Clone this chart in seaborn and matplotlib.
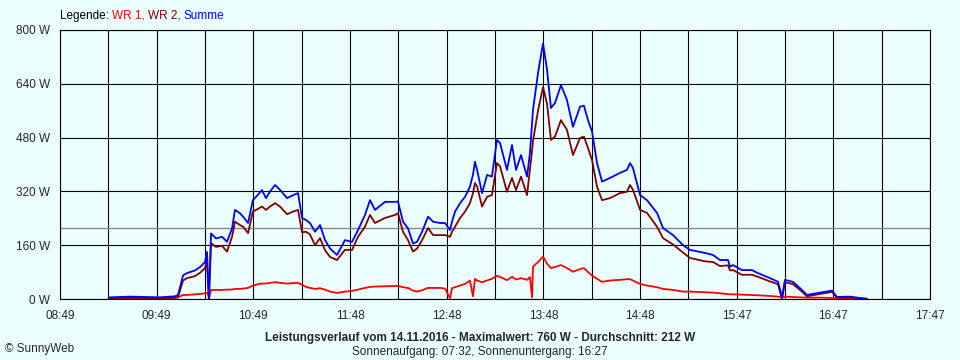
import matplotlib
matplotlib.use("Agg")
import matplotlib.pyplot as plt
import numpy as np
import pandas as pd
import seaborn as sns

# Messzeitpunkte in Minuten seit Mitternacht
minuten = [559.9, 566.1, 572.3, 581.6, 590.8, 600.1, 602.0, 605.1, 607.5, 612.5,
           615.6, 618.7, 619.9, 620.5, 621.1, 622.4, 625.5, 629.2, 632.3, 635.4,
           637.2, 640.3, 642.2, 645.3, 648.3, 651.4, 653.9, 656.4, 658.9, 662.0,
           665.0, 669.4, 673.1, 676.2, 678.7, 681.1, 683.6, 686.7, 689.8, 692.9,
           696.0, 700.3, 705.2, 709.6, 713.3, 717.6, 720.7, 723.8, 730.0, 736.2,
           738.0, 741.1, 744.2, 747.3, 749.8, 752.9, 756.6, 759.7, 764.0, 767.1,
           770.2, 771.4, 773.3, 776.4, 779.5, 782.5, 784.4, 785.6, 786.9, 790.0,
           793.1, 796.1, 799.2, 801.1, 805.4, 808.5, 811.0, 814.1, 817.8, 819.6,
           820.9, 821.5, 824.6, 827.7, 830.2, 832.6, 835.1, 838.8, 842.5, 846.2,
           850.6, 853.0, 855.5, 858.0, 861.1, 864.2, 869.1, 875.3, 879.6, 881.5,
           883.3, 887.7, 892.0, 898.2, 901.9, 908.1, 914.3, 918.6, 927.9, 932.8,
           937.1, 942.1, 943.3, 945.2, 950.7, 956.9, 960.6, 968.1, 973.0, 975.5,
           977.3, 982.3, 987.8, 990.9, 999.0, 1006.4, 1009.5, 1017.5, 1023.7, 1028.0]

# Leistung in W
wr1 = [1, 2, 2, 2, 2, 3, 5, 12, 12, 14,
       15, 17, 18, 18, 1, 27, 27, 27, 28, 28,
       30, 30, 31, 33, 40, 44, 46, 46, 48, 50,
       48, 46, 47, 48, 42, 36, 33, 30, 32, 28,
       22, 18, 22, 24, 28, 33, 36, 37, 38, 39,
       39, 35, 33, 25, 22, 26, 33, 33, 33, 31,
       2, 32, 35, 40, 45, 55, 8, 60, 55, 50,
       55, 60, 69, 66, 56, 66, 58, 62, 57, 65,
       5, 96, 110, 126, 105, 92, 95, 101, 92, 81,
       89, 92, 80, 70, 60, 51, 55, 57, 59, 59,
       55, 45, 40, 35, 30, 27, 22, 22, 20, 19,
       17, 15, 14, 14, 13, 12, 11, 9, 7, 5,
       7, 6, 5, 4, 4, 3, 2, 1, 1, 0]

wr2 = [3, 3, 4, 3, 3, 4, 6, 55, 62, 68,
       78, 92, 116, 50, 1, 166, 155, 158, 141, 185,
       230, 220, 215, 196, 260, 268, 275, 265, 275, 285,
       275, 252, 260, 265, 198, 200, 192, 160, 181, 145,
       125, 116, 146, 146, 185, 215, 250, 226, 241, 250,
       255, 200, 175, 141, 150, 175, 211, 190, 190, 190,
       185, 200, 215, 241, 260, 285, 315, 345, 335, 275,
       304, 309, 404, 395, 319, 360, 324, 364, 309, 384,
       440, 470, 560, 630, 580, 473, 483, 532, 503, 428,
       479, 483, 449, 413, 334, 294, 300, 315, 319, 339,
       325, 265, 256, 215, 181, 162, 138, 122, 112, 110,
       98, 100, 85, 86, 72, 72, 66, 52, 44, 0,
       50, 44, 22, 8, 15, 21, 4, 5, 2, 0]

summe = [5, 6, 7, 6, 5, 8, 12, 70, 77, 85,
         95, 110, 140, 60, 2, 195, 180, 185, 170, 210,
         265, 255, 245, 226, 294, 310, 324, 300, 320, 339,
         325, 300, 309, 315, 241, 235, 226, 200, 220, 175,
         150, 131, 175, 170, 205, 250, 294, 265, 289, 289,
         290, 230, 210, 165, 170, 200, 245, 230, 226, 226,
         205, 230, 260, 285, 304, 334, 370, 408, 384, 315,
         369, 364, 473, 464, 384, 458, 384, 428, 364, 434,
         520, 562, 672, 760, 681, 568, 583, 636, 592, 512,
         572, 575, 532, 498, 404, 349, 360, 375, 384, 404,
         390, 309, 294, 256, 211, 190, 160, 146, 137, 131,
         116, 116, 96, 101, 86, 86, 77, 62, 51, 5,
         57, 51, 27, 12, 19, 25, 6, 7, 3, 1]

reihen = ["WR 1", "WR 2", "Summe"]
farben = {"WR 1": "#FF0000", "WR 2": "#800000", "Summe": "#0000FF"}
zeit_labels = ["08:49", "09:49", "10:49", "11:48", "12:48",
               "13:48", "14:48", "15:47", "16:47", "17:47"]
watt_ticks = [0, 160, 320, 480, 640, 800]
start, ende = 529, 1067
durchschnitt = 212

df = pd.DataFrame({
    "Zeit": minuten * 3,
    "Leistung": wr1 + wr2 + summe,
    "Reihe": ["WR 1"] * len(wr1) + ["WR 2"] * len(wr2) + ["Summe"] * len(summe),
})

hintergrund = "#EBFFFF"
sns.set_style("white", {"axes.facecolor": hintergrund, "figure.facecolor": hintergrund})
plt.rcParams["font.family"] = ["Liberation Sans", "DejaVu Sans"]

fig = plt.figure(figsize=(9.6, 3.6), dpi=100)
ax = fig.add_axes([60 / 960, 1 - 299 / 360, 870 / 960, 269 / 360])

sns.lineplot(data=df, x="Zeit", y="Leistung", hue="Reihe", hue_order=reihen,
             palette=farben, estimator=None, sort=False, legend=False,
             linewidth=1.3, ax=ax, zorder=3)

ax.axhline(durchschnitt, color="#888888", lw=1.0, zorder=2)

ax.set_xlim(start, ende)
ax.set_ylim(0, 800)
xt = np.linspace(start, ende, 19)
ax.set_xticks(xt)
labels = []
for i in range(19):
    labels.append(zeit_labels[i // 2] if i % 2 == 0 else "")
ax.set_xticklabels(labels, fontsize=8.5)
ax.set_yticks(watt_ticks)
ax.set_yticklabels([f"{w} W" for w in watt_ticks], fontsize=8.5)
ax.tick_params(axis="both", direction="out", length=4, width=0.8, color="black")
ax.tick_params(axis="x", pad=4)
ax.tick_params(axis="y", pad=3)
ax.grid(True, color="black", lw=0.8, zorder=1)
ax.set_axisbelow(True)
for s in ax.spines.values():
    s.set_color("black")
    s.set_linewidth(0.8)
ax.set_xlabel("")
ax.set_ylabel("")

# Legende oben links, mehrfarbig
t = fig.text(60 / 960, 1 - 22 / 360, "Legende: ", fontsize=8.5, color="black",
             va="bottom")
for txt, col in [("WR 1, ", "#FF0000"), ("WR 2, ", "#800000"), ("Summe", "#0000FF")]:
    t = ax.annotate(txt, xy=(1, 0), xycoords=t, va="bottom", ha="left",
                    fontsize=8.5, color=col, annotation_clip=False)

fig.text(480 / 960, 1 - 338 / 360,
         "Leistungsverlauf vom 14.11.2016 - Maximalwert: 760 W - Durchschnitt: 212 W",
         ha="center", va="center", fontsize=8.5, fontweight="bold")
fig.text(480 / 960, 1 - 352 / 360, "Sonnenaufgang: 07:32, Sonnenuntergang: 16:27",
         ha="center", va="center", fontsize=8.5)
fig.text(5 / 960, 1 - 349 / 360, "© SunnyWeb", ha="left", va="center", fontsize=8.5)

fig.savefig("out.png", dpi=100, facecolor=hintergrund)
